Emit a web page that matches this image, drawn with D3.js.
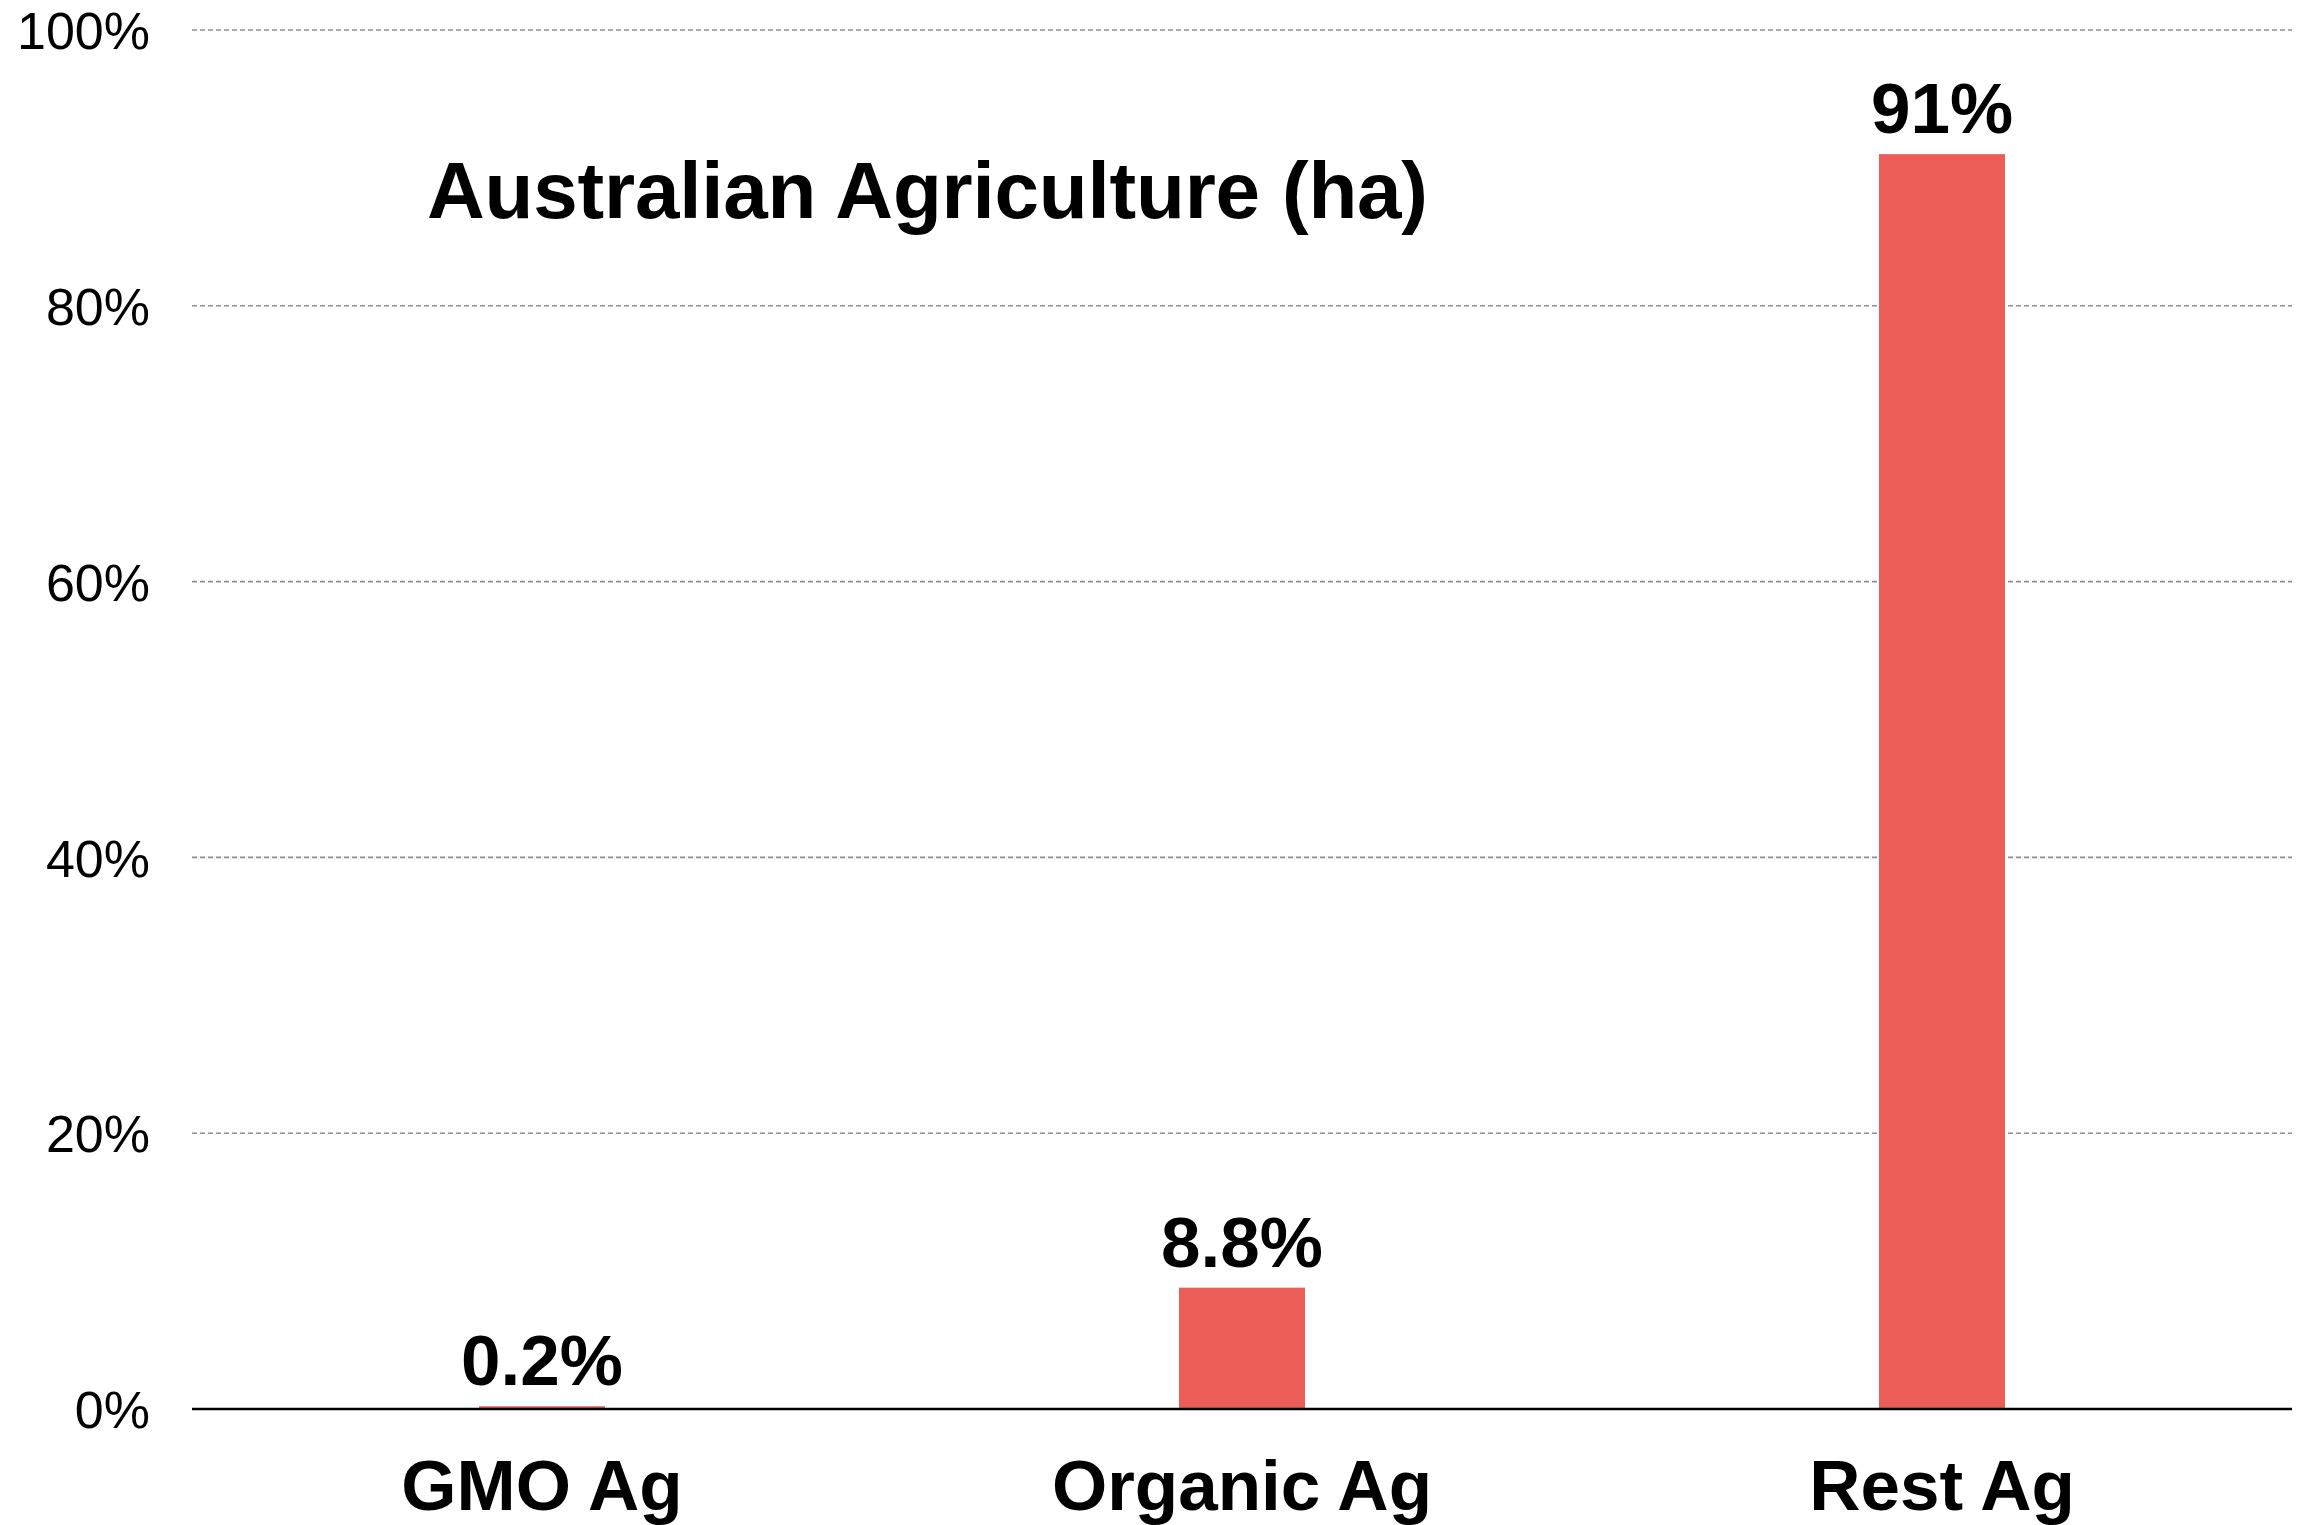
<!DOCTYPE html>
<html>
<head>
<meta charset="utf-8">
<script src="https://cdn.jsdelivr.net/npm/d3@7"></script>
<style>
  html, body { margin: 0; padding: 0; background: #fff; }
  svg { display: block; }
  text { font-family: "Liberation Sans", Arial, Helvetica, sans-serif; }
</style>
</head>
<body>
<svg id="chart" width="2307" height="1525"></svg>
<script>
const categories = ["GMO Ag", "Organic Ag", "Rest Ag"];
const values = [0.2, 8.8, 91];
const valueLabels = ["0.2%", "8.8%", "91%"];
const yTicks = [0, 20, 40, 60, 80, 100];
const title = "Australian Agriculture (ha)";

const svg = d3.select("#chart");
const plotLeft = 192, plotRight = 2292, plotTop = 30, plotBottom = 1409;

const x = d3.scaleBand().domain(categories).range([plotLeft, plotRight]).padding(0);
const y = d3.scaleLinear().domain([0, 100]).range([plotBottom, plotTop]);
const barW = x.bandwidth() * 0.18;

// gridlines
svg.append("g").selectAll("line")
  .data(yTicks.filter(d => d > 0))
  .join("line")
  .attr("x1", plotLeft).attr("x2", plotRight)
  .attr("y1", d => y(d)).attr("y2", d => y(d))
  .attr("stroke", "#8e8e8e").attr("stroke-width", 1.6)
  .attr("stroke-dasharray", "5,3");

// y axis tick labels
const yAxis = d3.axisLeft(y).tickValues(yTicks).tickFormat(d => d + "%").tickSize(0).tickPadding(42);
const ya = svg.append("g").attr("transform", `translate(${plotLeft},0)`).call(yAxis);
ya.select(".domain").remove();
ya.selectAll("text").attr("font-size", 52).attr("fill", "#000")
  .attr("font-family", '"Liberation Sans", Arial, sans-serif').attr("dy", "0.36em");

// bars
svg.append("g").selectAll("rect")
  .data(values)
  .join("rect")
  .attr("x", (d, i) => x(categories[i]) + x.bandwidth() / 2 - barW / 2)
  .attr("width", barW)
  .attr("y", d => y(d))
  .attr("height", d => plotBottom - y(d))
  .attr("fill", "#eb5e58");

// x axis line
svg.append("line")
  .attr("x1", plotLeft).attr("x2", plotRight)
  .attr("y1", plotBottom).attr("y2", plotBottom)
  .attr("stroke", "#000").attr("stroke-width", 2.5);

// value labels
svg.append("g").selectAll("text")
  .data(values)
  .join("text")
  .attr("x", (d, i) => x(categories[i]) + x.bandwidth() / 2)
  .attr("y", d => y(d) - 21)
  .attr("text-anchor", "middle")
  .attr("font-size", 71).attr("font-weight", "bold")
  .text((d, i) => valueLabels[i]);

// category labels
svg.append("g").selectAll("text")
  .data(categories)
  .join("text")
  .attr("x", d => x(d) + x.bandwidth() / 2)
  .attr("y", 1510)
  .attr("text-anchor", "middle")
  .attr("font-size", 71).attr("font-weight", "bold")
  .text(d => d);

// title
svg.append("text")
  .attr("x", 427).attr("y", 218)
  .attr("font-size", 80).attr("font-weight", "bold")
  .attr("textLength", 1001).attr("lengthAdjust", "spacing")
  .text(title);
</script>
</body>
</html>
